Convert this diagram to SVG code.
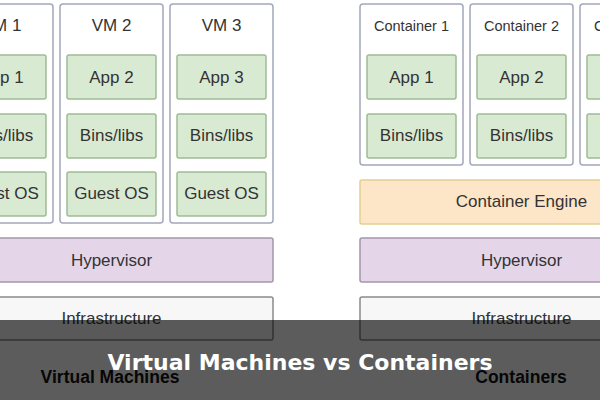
<svg xmlns="http://www.w3.org/2000/svg" width="600" height="400" viewBox="0 0 600 400">
<style>
.outer{fill:#ffffff;stroke:#a3a8bb;stroke-width:1.5}
.inner{fill:#d9ead3;stroke:#9fbb95;stroke-width:1.5}
.hyp{fill:#e4d6e8;stroke:#a396a8;stroke-width:1.5}
.infra{fill:#f7f7f7;stroke:#8a8a8a;stroke-width:1.5}
.eng{fill:#fde5c8;stroke:#e3cf8e;stroke-width:1.5}
text{font-family:"Liberation Sans",Arial,sans-serif;fill:#333;text-anchor:middle}
.t{font-size:17px}
.s{font-size:14.5px}
.b{font-size:17.5px;font-weight:bold;fill:#111}
.banner{font-family:"DejaVu Sans",sans-serif;font-size:22px;font-weight:bold;fill:#ffffff}
</style>
<rect width="600" height="400" fill="#ffffff"/>
<g id="vm1">
<rect class="outer" x="-50" y="4" width="103" height="219" rx="3"/>
<text class="t" x="1.5" y="31">VM 1</text>
<rect class="inner" x="-43" y="55" width="89" height="44" rx="2"/><text class="t" x="1.5" y="83">App 1</text>
<rect class="inner" x="-43" y="114" width="89" height="44" rx="2"/><text class="t" x="1.5" y="141">Bins/libs</text>
<rect class="inner" x="-43" y="172" width="89" height="44" rx="2"/><text class="t" x="1.5" y="199">Guest OS</text>
</g>
<g id="vm2">
<rect class="outer" x="60" y="4" width="103" height="219" rx="3"/>
<text class="t" x="111.5" y="31">VM 2</text>
<rect class="inner" x="67" y="55" width="89" height="44" rx="2"/><text class="t" x="111.5" y="83">App 2</text>
<rect class="inner" x="67" y="114" width="89" height="44" rx="2"/><text class="t" x="111.5" y="141">Bins/libs</text>
<rect class="inner" x="67" y="172" width="89" height="44" rx="2"/><text class="t" x="111.5" y="199">Guest OS</text>
</g>
<g id="vm3">
<rect class="outer" x="170" y="4" width="103" height="219" rx="3"/>
<text class="t" x="221.5" y="31">VM 3</text>
<rect class="inner" x="177" y="55" width="89" height="44" rx="2"/><text class="t" x="221.5" y="83">App 3</text>
<rect class="inner" x="177" y="114" width="89" height="44" rx="2"/><text class="t" x="221.5" y="141">Bins/libs</text>
<rect class="inner" x="177" y="172" width="89" height="44" rx="2"/><text class="t" x="221.5" y="199">Guest OS</text>
</g>
<g id="hypervisor-vm">
<rect class="hyp" x="-50" y="238" width="323" height="44" rx="2"/>
<text class="t" x="111.5" y="266">Hypervisor</text>
</g>
<g id="infra-vm">
<rect class="infra" x="-50" y="297" width="323" height="43" rx="2"/>
<text class="t" x="111.5" y="324">Infrastructure</text>
</g>
<g id="container1">
<rect class="outer" x="360" y="4" width="103" height="161" rx="3"/>
<text class="s" x="411.5" y="31">Container 1</text>
<rect class="inner" x="367" y="55" width="89" height="44" rx="2"/><text class="t" x="411.5" y="83">App 1</text>
<rect class="inner" x="367" y="114" width="89" height="44" rx="2"/><text class="t" x="411.5" y="141">Bins/libs</text>
</g>
<g id="container2">
<rect class="outer" x="470" y="4" width="103" height="161" rx="3"/>
<text class="s" x="521.5" y="31">Container 2</text>
<rect class="inner" x="477" y="55" width="89" height="44" rx="2"/><text class="t" x="521.5" y="83">App 2</text>
<rect class="inner" x="477" y="114" width="89" height="44" rx="2"/><text class="t" x="521.5" y="141">Bins/libs</text>
</g>
<g id="container3">
<rect class="outer" x="580" y="4" width="103" height="161" rx="3"/>
<text class="s" x="631.5" y="31">Container 3</text>
<rect class="inner" x="587" y="55" width="89" height="44" rx="2"/><text class="t" x="631.5" y="83">App 3</text>
<rect class="inner" x="587" y="114" width="89" height="44" rx="2"/><text class="t" x="631.5" y="141">Bins/libs</text>
</g>
<g id="engine">
<rect class="eng" x="360" y="180" width="323" height="44" rx="2"/>
<text class="t" x="521.5" y="207">Container Engine</text>
</g>
<g id="hypervisor-c">
<rect class="hyp" x="360" y="238" width="323" height="44" rx="2"/>
<text class="t" x="521.5" y="266">Hypervisor</text>
</g>
<g id="infra-c">
<rect class="infra" x="360" y="297" width="323" height="43" rx="2"/>
<text class="t" x="521.5" y="324">Infrastructure</text>
</g>
<g id="connectors"/>
<text class="b" x="110" y="383">Virtual Machines</text>
<text class="b" x="521" y="383">Containers</text>
<rect x="0" y="320" width="600" height="80" fill="#000000" fill-opacity="0.64"/>
<text class="banner" x="300" y="370">Virtual Machines vs Containers</text>
</svg>
